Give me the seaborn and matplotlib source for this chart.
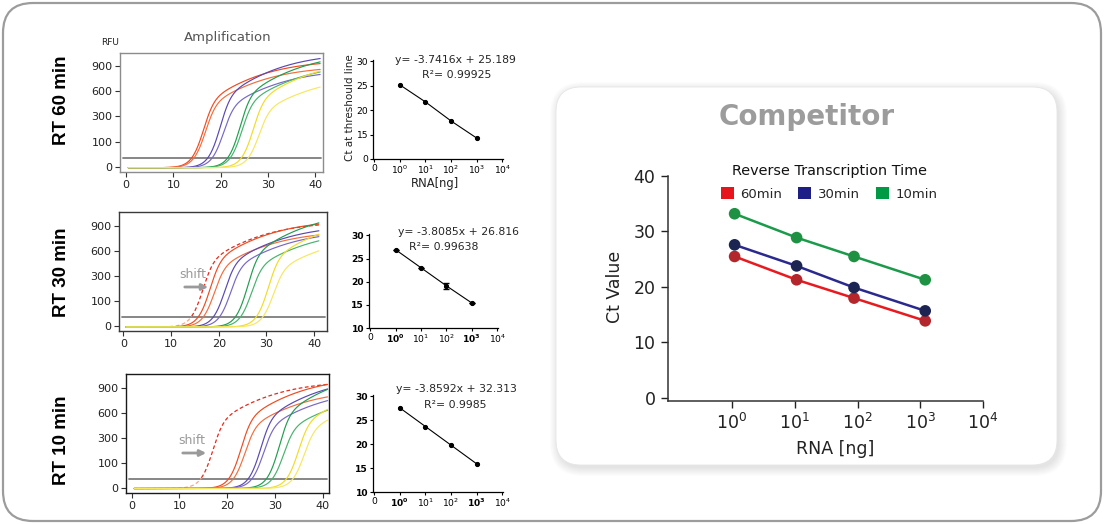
import numpy as np
import pandas as pd
import matplotlib
matplotlib.use("Agg")
import matplotlib.pyplot as plt
import seaborn as sns
from matplotlib.patches import FancyBboxPatch, Patch, FancyArrowPatch
from matplotlib.transforms import IdentityTransform
from matplotlib.ticker import NullLocator

W, H = 1104, 524

# ------------------------------------------------------------------ data
# Amplification panels (RFU axis is drawn with equally spaced ticks 0/100/300/600/900)
RFU_TICKS = [0, 100, 300, 600, 900]
CYCLE_TICKS = [0, 10, 20, 30, 40]
THRESHOLD_RFU = 36

CURVE_COLORS = ["#ef4b1f", "#f36d3d", "#5b47b2", "#7767c6",
                "#1f9e4e", "#46b36c", "#f1dc25", "#f6e760"]

# cycle where each amplification curve passes ~300 RFU, and RFU reached at cycle 41
RT60_MID = [17.3, 17.7, 20.8, 21.5, 25.0, 25.4, 27.8, 29.0]
RT60_END = [930, 860, 990, 800, 950, 830, 840, 650]
RT30_MID = [19.1, 20.0, 22.2, 23.4, 27.0, 27.8, 31.3, 32.4]
RT30_END = [920, 790, 840, 770, 935, 720, 800, 600]
RT10_MID = [23.8, 24.6, 27.9, 28.5, 31.8, 32.7, 35.8, 37.0]
RT10_END = [940, 790, 885, 745, 880, 630, 640, 510]
REF_MID = [None, 17.6, 17.9]      # dashed RT 60 min reference curve
REF_END = [None, 910, 940]

# Ct vs RNA small panels
SMALL_RNA = [1, 10, 100, 1000]
CT_RT60 = [25.2, 21.7, 17.8, 14.3]
CT_RT30 = [26.9, 23.0, 19.1, 15.4]
CT_RT30_ERR = [0.0, 0.0, 0.6, 0.0]
CT_RT10 = [27.6, 23.7, 19.8, 15.9]
EQUATIONS = ["y= -3.7416x + 25.189", "y= -3.8085x + 26.816", "y= -3.8592x + 32.313"]
R2_TEXT = ["R²= 0.99925", "R²= 0.99638", "R²= 0.9985"]
PANEL_LABELS = ["RT 60 min", "RT 30 min", "RT 10 min"]

# Competitor chart
RNA_NG = [1.1, 10.7, 88, 1200]
CT_60 = [25.5, 21.3, 18.0, 13.9]
CT_30 = [27.6, 23.8, 19.9, 15.7]
CT_10 = [33.2, 28.9, 25.5, 21.3]
TIMES = ["60min", "30min", "10min"]
LINE_COLORS = ["#e8191f", "#2a2a8e", "#1a9a4a"]
MARKER_COLORS = ["#b3262c", "#1c2552", "#1e9142"]
LEGEND_COLORS = ["#e8141c", "#1e1e87", "#009a44"]

# ------------------------------------------------------------------ style
sns.set_style("ticks")
plt.rcParams["font.family"] = ["DejaVu Sans"]
plt.rcParams["mathtext.fontset"] = "dejavusans"


def fx(px):
    return px / W


def fy(py):
    return 1 - py / H


def box(l, t, r, b):
    return [l / W, 1 - b / H, (r - l) / W, (b - t) / H]


def rfu_to_pos(r):
    r = np.asarray(r, dtype=float)
    return np.where(r <= 900, np.interp(r, RFU_TICKS, range(5)), 4 + (r - 900) / 300)


def shape(x):
    # smooth sigmoid: steep rise before the mid cycle, slow approach to plateau after
    z = 0.12 * x + 0.6 * (x - np.logaddexp(0, x - 0.5)) + 0.184
    return 1 / (1 + np.exp(-z))


def curve(c, mid, end_rfu, base=-0.04):
    end_pos = float(rfu_to_pos(end_rfu))
    top = base + (end_pos - base) / shape(41 - mid)
    return base + (top - base) * shape(c - mid)


fig = plt.figure(figsize=(W / 100, H / 100), dpi=100)
fig.patch.set_facecolor("white")

# outer rounded frame
fig.add_artist(FancyBboxPatch((3, H - 521), 1098, 518,
                              boxstyle="round,pad=0,rounding_size=30",
                              fc="white", ec="#9c9c9c", lw=1.6,
                              transform=IdentityTransform(), zorder=-10))
# competitor card with soft shadow
for i in range(9):
    fig.add_artist(FancyBboxPatch((556 - i + 2, H - 465 - i - 3), 501 + 2 * i, 378 + 2 * i,
                                  boxstyle=f"round,pad=0,rounding_size={25 + i}",
                                  fc="black", ec="none", alpha=0.012,
                                  transform=IdentityTransform(), zorder=-9))
fig.add_artist(FancyBboxPatch((556, H - 465), 501, 378,
                              boxstyle="round,pad=0,rounding_size=25",
                              fc="white", ec="#e6e6e6", lw=0.6,
                              transform=IdentityTransform(), zorder=-8))

# ------------------------------------------------------------------ amplification panels
AMP_BOXES = [(120, 53, 323, 172), (119, 212, 327, 331), (126, 374, 329, 493)]
AMP_XLIM = [(-1.27, 41.6), (-0.9, 42.7), (-1.2, 41.3)]
AMP_YLIM = [(-0.21, 4.52), (-0.2, 4.55), (-0.22, 4.55)]
FRAME_COLORS = ["#8c8c8c", "#3a3a3a", "#1a1a1a"]
MIDS = [RT60_MID, RT30_MID, RT10_MID]
ENDS = [RT60_END, RT30_END, RT10_END]

cyc = np.linspace(0.5, 41, 320)
thr_pos = float(rfu_to_pos(THRESHOLD_RFU))

for k in range(3):
    ax = fig.add_axes(box(*AMP_BOXES[k]))
    ax.set_facecolor("white")
    rows = []
    for j, (m, e) in enumerate(zip(MIDS[k], ENDS[k])):
        rows.append(pd.DataFrame({"cycle": cyc, "pos": curve(cyc, m, e), "curve": f"c{j}"}))
    df = pd.concat(rows, ignore_index=True)
    pal = {f"c{j}": CURVE_COLORS[j] for j in range(len(MIDS[k]))}
    if REF_MID[k] is not None:
        rp = curve(cyc, REF_MID[k], REF_END[k])
        lo = rp <= thr_pos + 0.05
        sns.lineplot(x=cyc[lo], y=rp[lo], color="#f5a784", lw=0.9,
                     linestyle=(0, (3, 2)), ax=ax)
        hi = rp >= thr_pos
        sns.lineplot(x=cyc[hi], y=rp[hi], color="#e32a1c", lw=0.9,
                     linestyle=(0, (3, 2)), ax=ax)
    sns.lineplot(data=df, x="cycle", y="pos", hue="curve", palette=pal,
                 estimator=None, sort=False, legend=False, lw=0.85, ax=ax)
    ax.axhline(thr_pos, xmin=0.015, xmax=0.99, color="#7d7d7d", lw=1.3, zorder=1)
    ax.set_xlim(*AMP_XLIM[k])
    ax.set_ylim(*AMP_YLIM[k])
    ax.set_xticks(CYCLE_TICKS)
    ax.set_yticks(range(5))
    ax.set_yticklabels([str(v) for v in RFU_TICKS])
    ax.set_xlabel("")
    ax.set_ylabel("")
    for s in ax.spines.values():
        s.set_visible(True)
        s.set_color(FRAME_COLORS[k])
        s.set_linewidth(1.0)
    ax.tick_params(labelsize=8, length=3.5, width=0.8, color="#333333",
                   labelcolor="#222222", pad=2)
    fig.text(fx(62), fy([100, 272, 440][k]), PANEL_LABELS[k], rotation=90,
             ha="center", va="center", fontsize=13.5, weight="bold",
             family=["Liberation Sans", "DejaVu Sans"], color="black")

fig.text(fx(110), fy(43), "RFU", ha="center", va="center", fontsize=6.5, color="#222222")
fig.text(fx(228), fy(38), "Amplification", ha="center", va="center", fontsize=9.5,
         color="#555555")

# shift annotations
for (tx, ty, ax0, ax1, ay) in [(193, 274, 182, 211, 287), (192, 441, 180, 209, 453)]:
    fig.text(fx(tx), fy(ty), "shift", ha="center", va="center", fontsize=9,
             color="#9a9a9a")
    fig.add_artist(FancyArrowPatch((fx(ax0), fy(ay)), (fx(ax1), fy(ay)),
                                   transform=fig.transFigure, arrowstyle="-|>",
                                   mutation_scale=9, lw=2.0, color="#9a9a9a"))

# ------------------------------------------------------------------ small Ct panels
CT_BOXES = [(373, 60, 503, 159), (369, 234, 498, 328), (373, 395, 503, 492)]
CT_SETS = [CT_RT60, CT_RT30, CT_RT10]
EQ_POS = [((455, 60), (457, 75)), ((458, 232), (444, 247)), ((456, 389), (455, 405))]
for k in range(3):
    ax = fig.add_axes(box(*CT_BOXES[k]))
    ax.set_facecolor("none")
    xs = np.log10(SMALL_RNA)
    sns.lineplot(x=xs, y=CT_SETS[k], color="black", lw=0.8, marker="o",
                 markersize=3, markeredgecolor="black", ax=ax)
    if k == 1:
        ax.errorbar(xs, CT_SETS[k], yerr=CT_RT30_ERR, fmt="none", ecolor="black",
                    elinewidth=0.8, capsize=2)
    ax.set_xlim(-1.05, 4.03)
    ax.set_ylim(10, 30.3)
    ax.set_yticks([10, 15, 20, 25, 30])
    ax.set_xticks([-1, 0, 1, 2, 3, 4])
    if k == 0:
        ax.set_yticklabels(["0", "15", "20", "25", "30"])
        ax.set_xticklabels(["0", "$10^0$", "$10^1$", "$10^2$", "$10^3$", "$10^4$"])
    else:
        ax.set_yticklabels(["10", "15", "20", "25", "30"], fontweight="bold")
        ax.set_xticklabels(["0", r"$\mathbf{10^0}$", "$10^1$", "$10^2$",
                            r"$\mathbf{10^3}$", "$10^4$"])
    sns.despine(ax=ax)
    for s in ["left", "bottom"]:
        ax.spines[s].set_color("black")
        ax.spines[s].set_linewidth(0.9)
    ax.tick_params(labelsize=6.6, length=2.5, width=0.8, pad=1.0, colors="black")
    (ex, ey), (rx, ry) = EQ_POS[k]
    fig.text(fx(ex), fy(ey), EQUATIONS[k], ha="center", va="center", fontsize=7.8)
    fig.text(fx(rx), fy(ry), R2_TEXT[k], ha="center", va="center", fontsize=7.8)

fig.text(fx(350), fy(108), "Ct at threshould line", rotation=90, ha="center",
         va="center", fontsize=7.5, color="#222222")
fig.text(fx(435), fy(183), "RNA[ng]", ha="center", va="center", fontsize=8.3,
         color="#222222")

# ------------------------------------------------------------------ Competitor chart
axc = fig.add_axes(box(668, 176, 983, 400.6))
axc.set_facecolor("none")
dfc = pd.DataFrame({"RNA": RNA_NG * 3,
                    "Ct": CT_60 + CT_30 + CT_10,
                    "Time": np.repeat(TIMES, len(RNA_NG))})
sns.lineplot(data=dfc, x="RNA", y="Ct", hue="Time", hue_order=TIMES,
             palette=dict(zip(TIMES, LINE_COLORS)), lw=1.8, legend=False, ax=axc)
sns.scatterplot(data=dfc, x="RNA", y="Ct", hue="Time", hue_order=TIMES,
                palette=dict(zip(TIMES, MARKER_COLORS)), s=70, edgecolor="none",
                legend=False, zorder=3, ax=axc)
axc.set_xscale("log")
axc.set_xlim(10 ** -1.02, 1e4)
axc.set_ylim(-0.47, 40)
axc.set_yticks([0, 10, 20, 30, 40])
axc.set_xticks([1, 10, 100, 1000, 10000])
axc.xaxis.set_minor_locator(NullLocator())
sns.despine(ax=axc)
for s in ["left", "bottom"]:
    axc.spines[s].set_color("#333333")
    axc.spines[s].set_linewidth(1.1)
axc.tick_params(labelsize=12.5, length=5, width=1.0, colors="#222222", pad=4)
axc.set_xlabel("")
axc.set_ylabel("")
fig.text(fx(615), fy(287), "Ct Value", rotation=90, ha="center", va="center",
         fontsize=12.5, color="#222222")
fig.text(fx(835), fy(449), "RNA [ng]", ha="center", va="center", fontsize=12.5,
         color="#222222")
fig.text(fx(807), fy(117), "Competitor", ha="center", va="center", fontsize=20,
         weight="bold", color="#9c9c9c")
fig.text(fx(829), fy(171), "Reverse Transcription Time", ha="center", va="center",
         fontsize=10.4, color="#111111")
handles = [Patch(facecolor=c, edgecolor="none") for c in LEGEND_COLORS]
leg = axc.legend(handles, TIMES, ncol=3, loc="center",
                 bbox_to_anchor=(fx(829), fy(194)),
                 bbox_transform=fig.transFigure, frameon=False, fontsize=9.5,
                 handlelength=1.0, handleheight=1.0,
                 handletextpad=0.5, columnspacing=1.2, borderaxespad=0,
                 borderpad=0)

fig.savefig("out.png", dpi=100, facecolor="white")
